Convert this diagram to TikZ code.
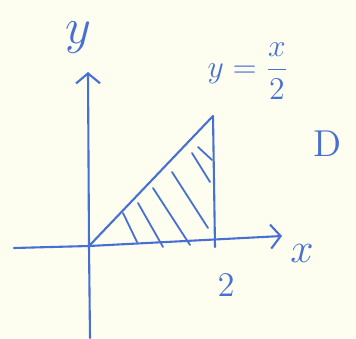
\documentclass[tikz,border=0pt]{standalone}
\usepackage{amsmath}
\usetikzlibrary{positioning,arrows.meta}
\definecolor{pen}{RGB}{72,112,212}
\definecolor{paper}{RGB}{253,253,240}

\begin{document}
\begin{tikzpicture}[
  x=1pt,y=-1pt,
  pen/.style={draw=pen,line width=2.1pt,line cap=round,line join=round},
  axis/.style={pen,-{Straight Barb[length=10pt,width=24pt,line width=2.1pt]}},
  lab/.style={text=pen,inner sep=0pt,font=\Large}
]
% 紙
\fill[paper] (0,0) rectangle (356,338);
\useasboundingbox (0,0) rectangle (356,338);

% 座標軸
\coordinate (O) at (89,246);
\coordinate (xl) at (14,248);
\coordinate (xr) at (282,236);
\coordinate (yb) at (90,338);
\coordinate (yt) at (88,72);
\draw[axis] (xl) -- (O) -- (xr);
\draw[axis] (yb) -- (O) -- (yt);

% 領域 D
\coordinate (T) at (213,116);
\coordinate (B) at (215,247);
\draw[pen] (O) -- (T) -- (B);
\foreach \a/\b/\c/\d in {123/213/137/242, 138/203/163/247, 153/188/190/245,
                         172/172/208/228, 192/153/210/182, 198/147/212/160}
  \draw[pen,line width=1.8pt] (\a,\b) -- (\c,\d);

% ラベル
\node[lab,scale=3.5] (ylab) at (78,38) {$y$};
\node[lab,scale=2.9] (xlab) at (302,254) {$x$};
\node[lab,scale=2.2] (eq) at (248,71) {$y=\dfrac{x}{2}$};
\node[lab,scale=2.6] (D) at (327,144) {$\mathrm{D}$};
\node[lab,scale=2.4] (two) at (226,285) {$2$};
\end{tikzpicture}
\end{document}
